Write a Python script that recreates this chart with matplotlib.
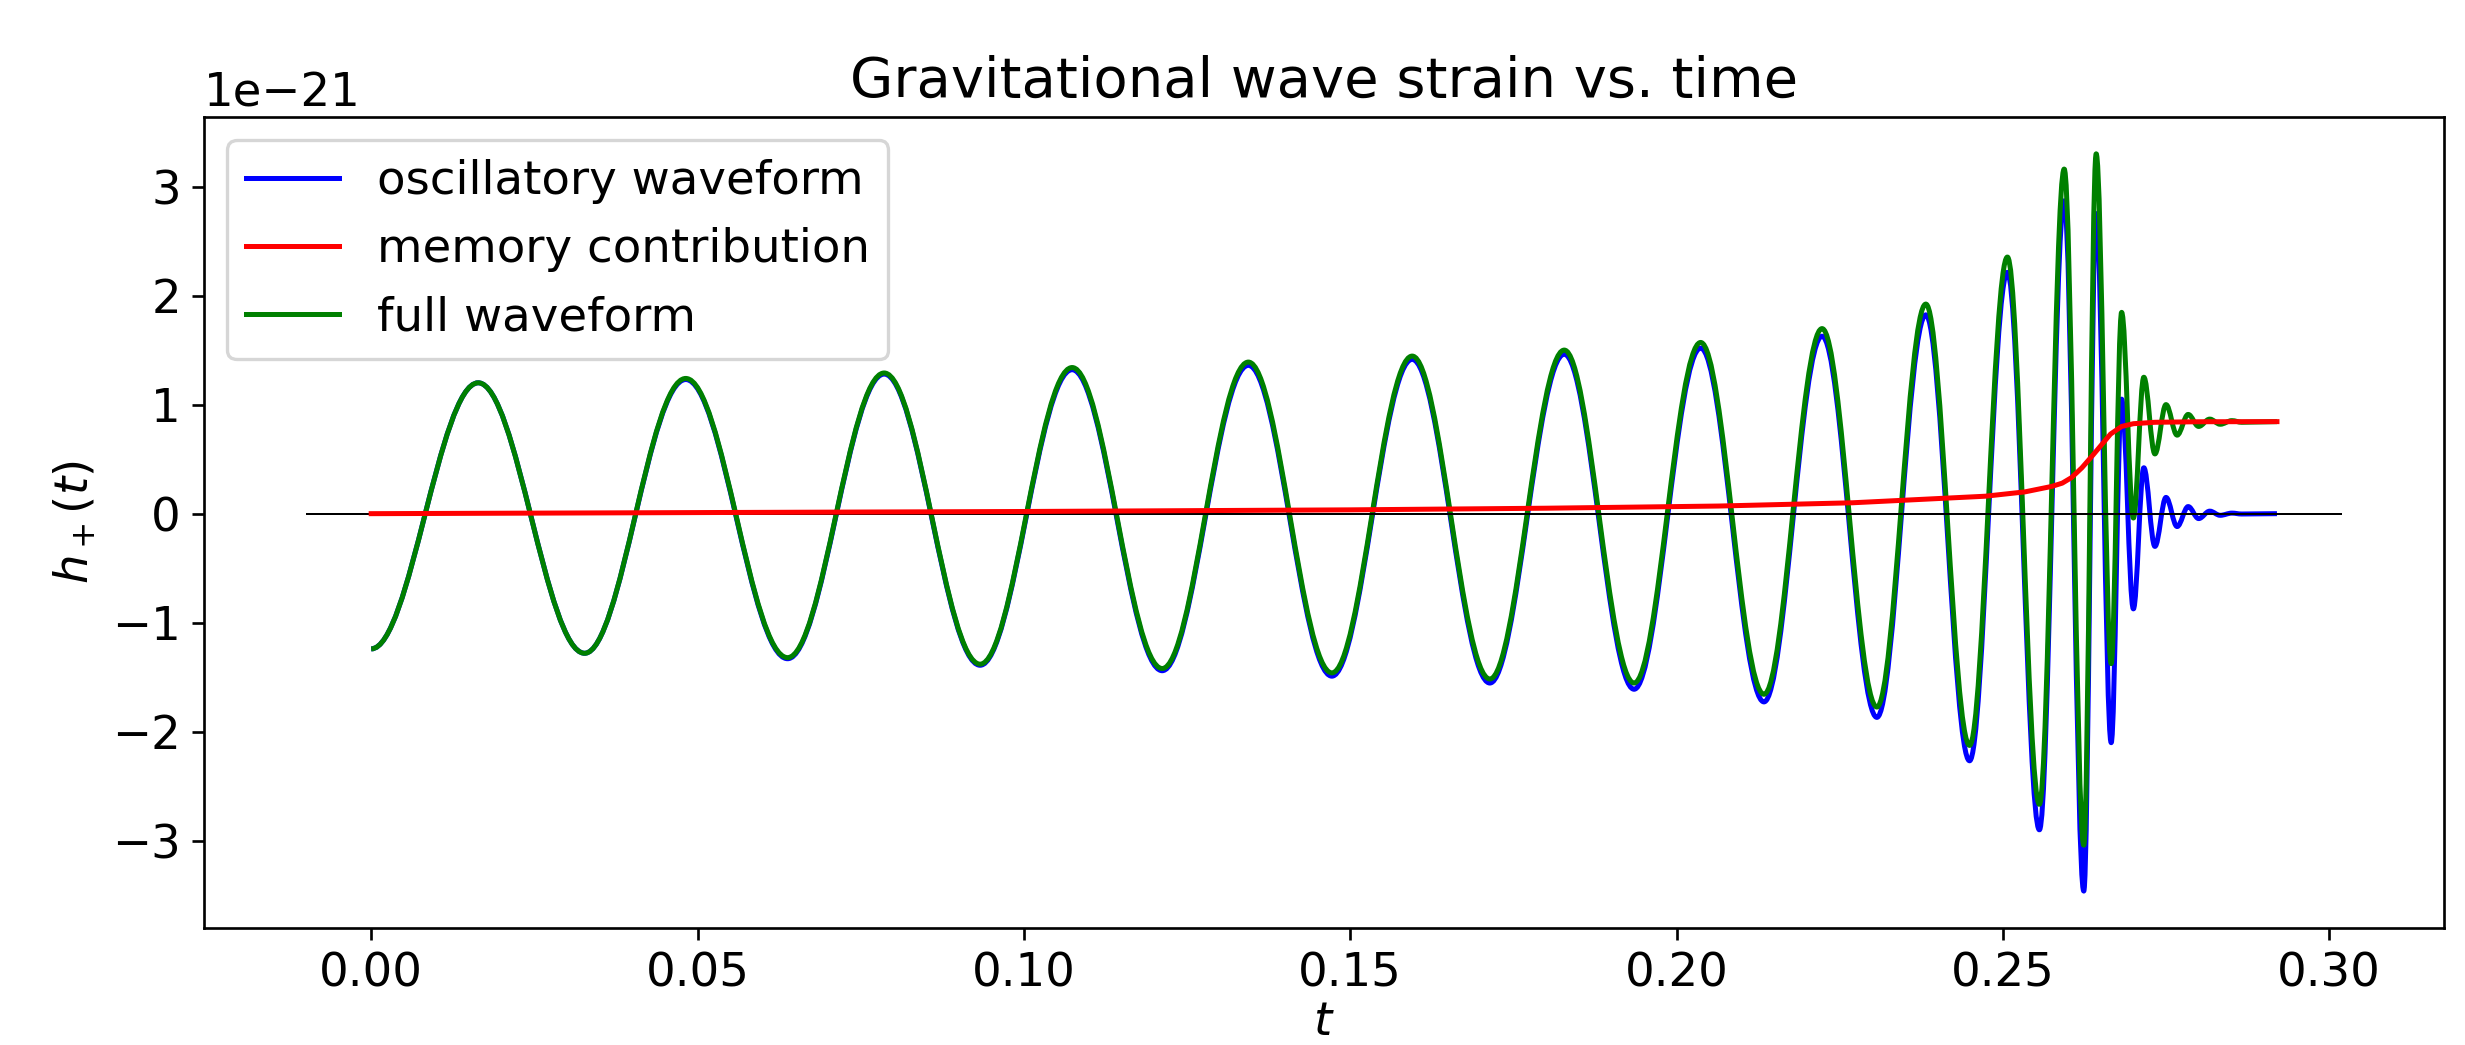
import numpy as np
import matplotlib
matplotlib.use('Agg')
import matplotlib.pyplot as plt
from matplotlib.path import Path
from matplotlib.patches import PathPatch
from matplotlib.lines import Line2D

SCALE = 1e-21  # strain values below are in units of 1e-21

# turning points (peaks / troughs) of the waveforms
t_turn = [0.0000, 0.0164, 0.0327, 0.0482, 0.0638, 0.0786, 0.0933, 0.1074,
          0.1212, 0.1344, 0.1472, 0.1595, 0.1714, 0.1828, 0.1935, 0.2037,
          0.2134, 0.2223, 0.2307, 0.2382, 0.2449, 0.2507, 0.2556, 0.2594,
          0.2624, 0.2643, 0.2666, 0.2682, 0.2700, 0.2716, 0.2733, 0.2750,
          0.2767, 0.2784, 0.2800, 0.2817, 0.2833, 0.2851, 0.2866, 0.2920]
h_osc = [-1.24, 1.20, -1.28, 1.23, -1.33, 1.28, -1.39, 1.32,
         -1.44, 1.36, -1.49, 1.415, -1.553, 1.462, -1.61, 1.518,
         -1.726, 1.627, -1.868, 1.823, -2.266, 2.213, -2.899, 2.869,
         -3.461, 2.752, -2.10, 1.05, -0.873, 0.421, -0.30, 0.149,
         -0.118, 0.065, -0.045, 0.023, -0.015, 0.005, -0.003, 0.0]
h_full = [-1.24, 1.20, -1.28, 1.24, -1.32, 1.29, -1.38, 1.34,
          -1.42, 1.39, -1.46, 1.445, -1.516, 1.50, -1.553, 1.57,
          -1.656, 1.697, -1.773, 1.922, -2.125, 2.353, -2.665, 3.16,
          -3.04, 3.30, -1.375, 1.846, -0.04, 1.251, 0.548, 1.0,
          0.72, 0.91, 0.80, 0.867, 0.82, 0.853, 0.838, 0.844]

# memory contribution
t_mem = [0.0, 0.05, 0.10, 0.15, 0.18, 0.2065, 0.227, 0.2473, 0.2534,
         0.2575, 0.2591, 0.2605, 0.2621, 0.2637, 0.2651, 0.2665, 0.2682,
         0.2700, 0.2733, 0.2800, 0.2920]
h_mem = [0.0, 0.01, 0.02, 0.035, 0.05, 0.07, 0.10, 0.16, 0.20,
         0.25, 0.28, 0.33, 0.42, 0.53, 0.63, 0.73, 0.80,
         0.825, 0.838, 0.843, 0.844]


def turning_path(t, h, k=0.364):
    # cubic segments with flat tangents at every turning point
    verts = [(t[0], h[0] * SCALE)]
    codes = [Path.MOVETO]
    for i in range(1, len(t)):
        dt = t[i] - t[i - 1]
        verts += [(t[i - 1] + k * dt, h[i - 1] * SCALE),
                  (t[i] - k * dt, h[i] * SCALE),
                  (t[i], h[i] * SCALE)]
        codes += [Path.CURVE4] * 3
    return Path(verts, codes)


DPI = 240
plt.rcParams['font.size'] = 14
fig = plt.figure(figsize=(2465 / DPI, 1045 / DPI), dpi=DPI)
ax = fig.add_axes([0.0828, 0.1120, 0.9087, 0.7761])

ax.hlines(0, t_turn[0] - 0.01, t_turn[-1] + 0.01, colors='k', lw=0.6)

osc = PathPatch(turning_path(t_turn, h_osc), fill=False, edgecolor='blue',
                lw=1.5, joinstyle='round', capstyle='butt')
ax.add_patch(osc)
ax.plot(t_mem, np.array(h_mem) * SCALE, color='red', lw=1.5)
full = PathPatch(turning_path(t_turn, h_full), fill=False, edgecolor='green',
                 lw=1.5, joinstyle='round', capstyle='butt')
ax.add_patch(full)
ax.autoscale_view()

handles = [Line2D([], [], color='blue', lw=1.5),
           Line2D([], [], color='red', lw=1.5),
           Line2D([], [], color='green', lw=1.5)]
ax.legend(handles, ['oscillatory waveform', 'memory contribution',
                    'full waveform'], loc='upper left')

ax.set_title('Gravitational wave strain vs. time')
ax.set_xlabel('$t$', labelpad=1)
ax.set_ylabel('$h_+(t)$')

fig.savefig('out.png', dpi=DPI)
